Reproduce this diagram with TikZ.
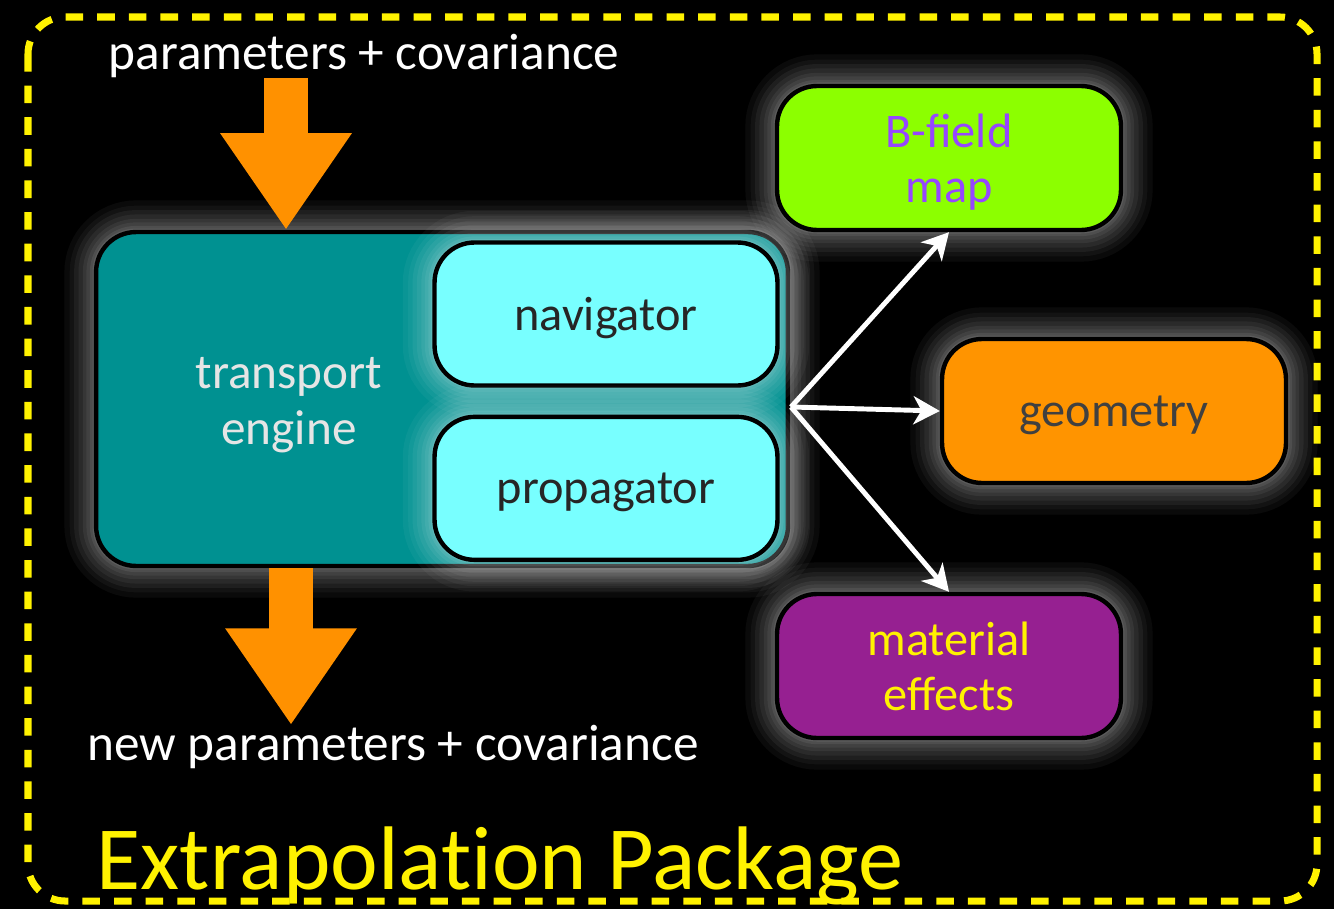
\documentclass[tikz,border=0pt]{standalone}
\usepackage{fontspec}
\setmainfont{Carlito}
\usetikzlibrary{positioning,arrows.meta,calc}

\definecolor{enginecol}{RGB}{0,145,145}
\definecolor{subcol}{RGB}{120,255,255}
\definecolor{fieldcol}{RGB}{140,255,0}
\definecolor{fieldtxt}{RGB}{150,70,255}
\definecolor{geocol}{RGB}{255,148,0}
\definecolor{matcol}{RGB}{150,32,145}
\definecolor{flowcol}{RGB}{255,145,0}

\tikzset{
glow/.style={
  preaction={draw=white,line width=36pt,opacity=0.04},
  preaction={draw=white,line width=30pt,opacity=0.04},
  preaction={draw=white,line width=25pt,opacity=0.05},
  preaction={draw=white,line width=20pt,opacity=0.05},
  preaction={draw=white,line width=15pt,opacity=0.06},
  preaction={draw=white,line width=11pt,opacity=0.06},
  preaction={draw=white,line width=7pt,opacity=0.07},
  preaction={draw=white,line width=4pt,opacity=0.08}
},
box/.style={
  glow,
  draw=black,
  line width=2.5pt,
  rounded corners=0.8cm,
  minimum width=6.88cm,
  minimum height=2.88cm,
  inner sep=0pt,
  text depth=0pt,
  align=center,
  font=\fontsize{27.5}{31}\selectfont
},
subbox/.style={box,fill=subcol,text=black!85,minimum width=6.86cm,minimum height=2.86cm},
flow/.style={draw=flowcol,line width=25.6pt,-{Triangle[length=55pt,width=71pt]}},
link/.style={draw=white,line width=2.8pt,-{Stealth[length=15pt,width=16pt,inset=4.5pt]}},
iotext/.style={text=white,anchor=base,inner sep=0pt,font=\fontsize{29.2}{33}\selectfont},
pkgframe/.style={draw=yellow,line width=4pt,dash pattern=on 10pt off 8pt,rounded corners=0.74cm}
}

\begin{document}
\begin{tikzpicture}[x=0.02cm,y=-0.02cm]
  \fill[black] (0,0) rectangle (1334,909);
  \draw[pkgframe] (28,17) rectangle (1317,901);

  % transport engine with its two parts
  \node[box,fill=enginecol,minimum width=13.84cm,minimum height=6.68cm] (engine) at (442,399) {};
  \node[text=white!90!black,align=center,font=\fontsize{28}{32}\selectfont] (enginetxt) at (289,405) {transport\\engine};
  \node[subbox] (navigator) at (606,314) {navigator};
  \node[subbox,below=0.54cm of navigator] (propagator) {propagator};

  % services
  \node[box,fill=fieldcol,text=fieldtxt] (bfield) at (949,158) {B-field\\map};
  \node[box,fill=geocol,text=black!75] (geometry) at (1114,411) {geometry};
  \node[box,fill=matcol,text=yellow] (material) at (949,666) {material\\effects};

  \coordinate (hub) at (791,407);
  \draw[link] (hub) -- (bfield.south);
  \draw[link] (hub) -- (geometry.west);
  \draw[link] (hub) -- (material.north);

  % in and out
  \node[iotext] (intext) at (364,70) {parameters + covariance};
  \coordinate (inflow) at (286,78);
  \draw[flow] (inflow) -- (inflow |- engine.north);
  \coordinate (outflow) at (291,725);
  \draw[flow] (outflow |- engine.south) -- (outflow);
  \node[iotext] (outtext) at (393,760) {new parameters + covariance};

  \node[text=yellow,anchor=base,inner sep=0pt,font=\fontsize{51.4}{56}\selectfont\addfontfeatures{Ligatures=NoCommon}] (title) at (500,889) {Extrapolation Package};
\end{tikzpicture}
\end{document}
